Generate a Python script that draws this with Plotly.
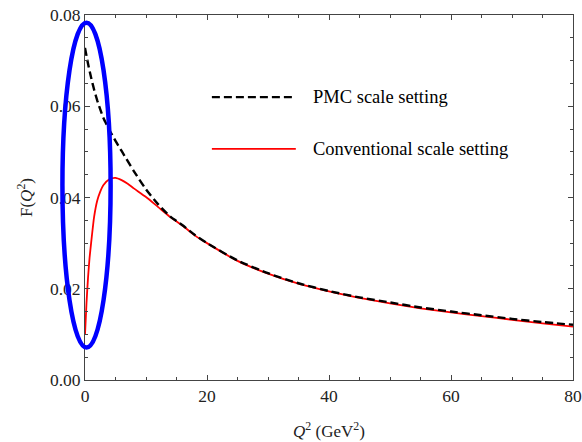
import plotly.graph_objects as go

# ---- data ----
q2_pmc = [0, 0.5, 1, 1.5, 2, 2.5, 3, 4, 5, 6, 8, 10, 12, 14, 16, 18, 20, 25, 30, 35,
          40, 45, 50, 55, 60, 65, 70, 75, 80]
f_pmc = [0.0728, 0.0693, 0.0663, 0.0636, 0.0613, 0.0593, 0.0575, 0.0548, 0.0524,
         0.0502, 0.0458, 0.0418, 0.0385, 0.0358, 0.0339, 0.0318, 0.0300, 0.0262,
         0.0234, 0.0212, 0.0195, 0.0181, 0.0170, 0.0159, 0.0150, 0.0142, 0.0134,
         0.0127, 0.0121]

q2_conv = [0, 0.25, 0.5, 0.75, 1, 1.5, 2, 2.5, 3, 4, 5, 6, 7, 8, 10, 12, 14, 16, 18,
           20, 25, 30, 35, 40, 45, 50, 55, 60, 65, 70, 75, 80]
f_conv = [0.0099, 0.0170, 0.0225, 0.0268, 0.0300, 0.0358, 0.0393, 0.0413, 0.0427,
          0.0440, 0.0443, 0.0438, 0.0430, 0.0420, 0.0401, 0.0379, 0.0357, 0.0338,
          0.0317, 0.0300, 0.0261, 0.0233, 0.0211, 0.0194, 0.0180, 0.0168, 0.0157,
          0.0148, 0.0140, 0.0132, 0.0124, 0.0117]

legend_labels = ["PMC scale setting", "Conventional scale setting"]
x_ticks = [0, 20, 40, 60, 80]
y_ticks = [0.00, 0.02, 0.04, 0.06, 0.08]

# highlighted region (ellipse) in data units
ell_x = [-3.7, 4.2]
ell_y = [0.0071, 0.0783]

x_range = [0, 80]
y_range = [0, 0.08]

FONT = "Liberation Serif"

fig = go.Figure()
fig.add_trace(go.Scatter(x=q2_conv, y=f_conv, mode="lines", name=legend_labels[1],
                         line=dict(color="#ff0000", width=1.8, shape="spline", smoothing=0.6),
                         showlegend=False))
fig.add_trace(go.Scatter(x=q2_pmc, y=f_pmc, mode="lines", name=legend_labels[0],
                         line=dict(color="black", width=2.4, dash="8px,4px",
                                   shape="spline", smoothing=0.6),
                         showlegend=False))


def px(v):
    return (v - x_range[0]) / (x_range[1] - x_range[0])


def py(v):
    return (v - y_range[0]) / (y_range[1] - y_range[0])


# ellipse (paper coords so it is not clipped by the plot area)
fig.add_shape(type="circle", xref="paper", yref="paper",
              x0=px(ell_x[0]), x1=px(ell_x[1]), y0=py(ell_y[0]), y1=py(ell_y[1]),
              line=dict(color="#0000ff", width=4.5), layer="above")

# custom legend
leg_items = [
    (legend_labels[0], dict(color="black", width=2.4, dash="8px,4px"), 0.775),
    (legend_labels[1], dict(color="#ff0000", width=1.8), 0.633),
]
for label, ln, yy in leg_items:
    fig.add_shape(type="line", xref="paper", yref="paper",
                  x0=0.260, x1=0.432, y0=yy, y1=yy, line=ln)
    fig.add_annotation(xref="paper", yref="paper", x=0.463, y=yy, text=label,
                       showarrow=False, xanchor="left", yanchor="middle",
                       font=dict(family=FONT, size=18.5, color="black"))

axis_common = dict(
    showline=True, linecolor="#444444", linewidth=1, mirror="allticks",
    ticks="inside", ticklen=5, tickwidth=1, tickcolor="#444444",
    showgrid=False, zeroline=False, automargin=False,
    tickfont=dict(family=FONT, size=17.5, color="#222222"),
)

fig.update_xaxes(range=x_range, tickvals=x_ticks,
                 minor=dict(dtick=5, ticks="inside", ticklen=3, tickcolor="#444444"),
                 title=dict(text="<i>Q</i><sup>2</sup> (GeV<sup>2</sup>)",
                            font=dict(family=FONT, size=17, color="#222222"), standoff=20),
                 **axis_common)
fig.update_yaxes(range=y_range, tickvals=y_ticks, tickformat=".2f",
                 minor=dict(dtick=0.005, ticks="inside", ticklen=3, tickcolor="#444444"),
                 title=dict(text="F(<i>Q</i><sup>2</sup>)",
                            font=dict(family=FONT, size=17, color="#222222"), standoff=12),
                 **axis_common)

fig.update_layout(
    width=582, height=442,
    margin=dict(l=85, r=9, t=15, b=62),
    plot_bgcolor="white", paper_bgcolor="white",
    showlegend=False,
)

fig.write_html("out.html")
